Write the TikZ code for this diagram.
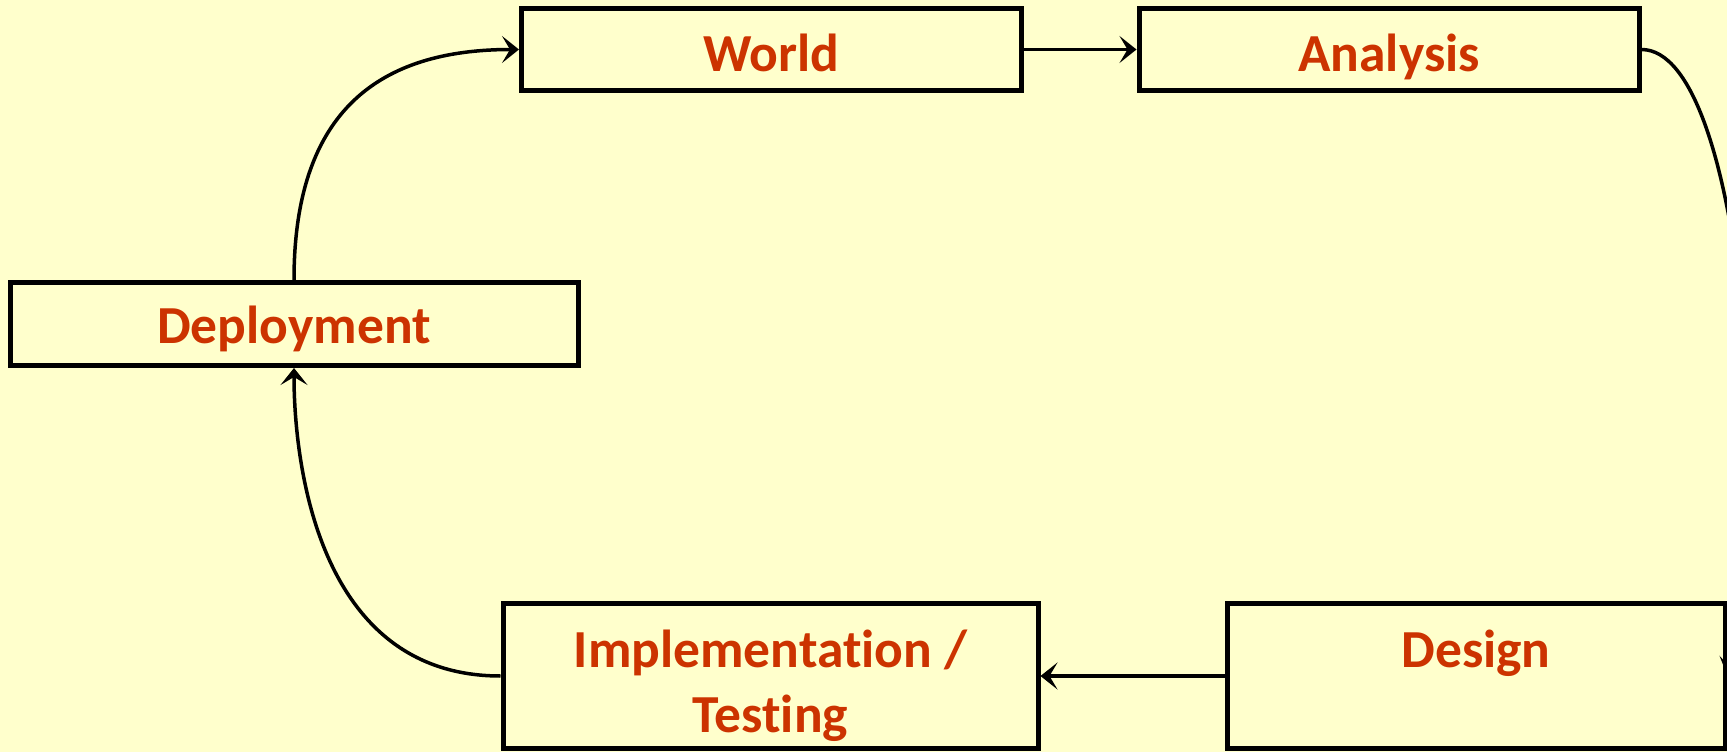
\documentclass[tikz,border=0pt]{standalone}
\usepackage{fontspec}
\setmainfont{Carlito}[Ligatures=NoCommon]
\usetikzlibrary{arrows.meta}
\definecolor{bgcol}{RGB}{255,255,204}
\definecolor{txtcol}{RGB}{204,51,0}
\begin{document}
\begin{tikzpicture}[x=1pt,y=-1pt,
  box/.style={draw=black,line width=5pt,inner sep=0pt,minimum width=500pt,minimum height=81pt,
    font=\fontsize{53.5}{65}\selectfont\bfseries,text=txtcol},
  conn/.style={line width=3.5pt,-{Stealth[length=17pt,width=27pt,inset=8pt]}}]
\useasboundingbox (0,0) rectangle (1727,752);
\fill[bgcol] (0,0) rectangle (1727,752);
\clip (0,0) rectangle (1727,752);
\node[box,text height=45pt,text depth=0pt] (world) at (771.5,49.5) {World};
\node[box,text height=45pt,text depth=0pt] (ana) at (1389,49.5) {Analysis};
\node[box,minimum width=568pt,minimum height=83pt,text height=39pt,text depth=0pt] (dep) at (294,324) {Deployment};
\node[box,minimum width=535pt,minimum height=145pt,text height=40pt,text depth=57pt] (impl) at (770.5,676)
  {\renewcommand\arraystretch{1}\setlength\tabcolsep{0pt}\begin{tabular}[t]{c}Implementation /\\Testing\end{tabular}};
\node[box,minimum width=498pt,minimum height=145pt,text height=40pt,text depth=57pt] (des) at (1476,676) {Design};
\draw[conn] (world.east) -- (ana.west);
\draw[conn] (ana.east) .. controls (1745,49.5) and (1775,520) .. (des.east);
\draw[conn] (des.west) -- (impl.east);
\draw[conn] (impl.west) .. controls (300,676) and (294,420) .. (dep.south);
\draw[conn] (dep.north) .. controls (294,110) and (380,49.5) .. (world.west);
\end{tikzpicture}
\end{document}
